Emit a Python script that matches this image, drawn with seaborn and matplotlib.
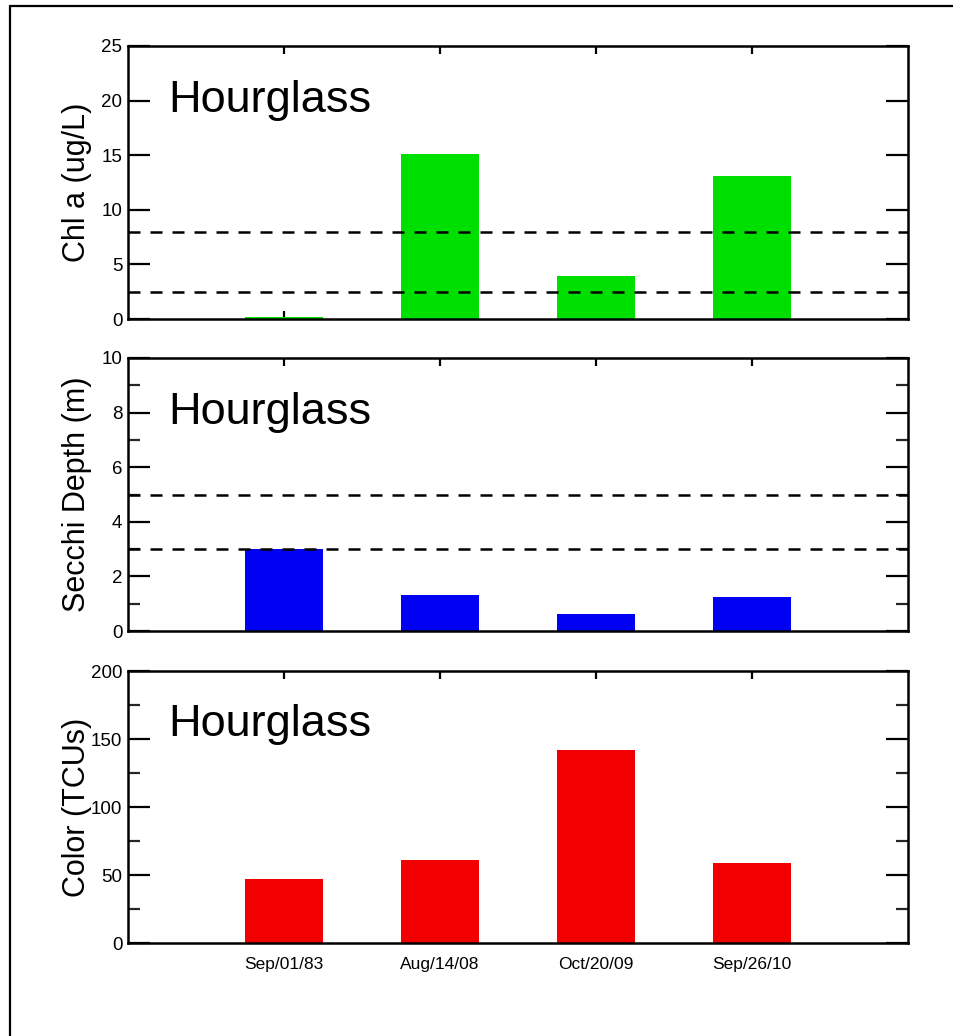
import matplotlib
matplotlib.use("Agg")
import matplotlib.pyplot as plt
from matplotlib.lines import Line2D
from matplotlib.ticker import MultipleLocator
import seaborn as sns
import pandas as pd

# Sampling dates and measured values for Hourglass lake
dates = ["Sep/01/83", "Aug/14/08", "Oct/20/09", "Sep/26/10"]
chl_a = [0.15, 15.1, 3.9, 13.1]         # ug/L
secchi = [3.0, 1.33, 0.62, 1.25]        # m
color_tcu = [47, 61, 142, 59]           # TCUs

chl_refs = [8.0, 2.5]
secchi_refs = [5.0, 3.0]

lake_name = "Hourglass"

sns.set_theme(style="white")
plt.rcParams["font.family"] = ["Liberation Sans", "DejaVu Sans"]

fig = plt.figure(figsize=(9.54, 10.36), dpi=100)
fig.patch.set_facecolor("white")

# outer frame (left and top edges)
fig.add_artist(Line2D([10 / 954, 10 / 954], [0, 1 - 6 / 1036],
                      transform=fig.transFigure, color="black", lw=1.6))
fig.add_artist(Line2D([10 / 954, 1], [1 - 6 / 1036, 1 - 6 / 1036],
                      transform=fig.transFigure, color="black", lw=1.6))

left, width = 128 / 954, 780 / 954
panels = [
    dict(vals=chl_a, color="#00e000", ylim=25, major=5, minor=None,
         ylabel="Chl a (ug/L)", refs=chl_refs, top=46, bottom=319),
    dict(vals=secchi, color="#0000f2", ylim=10, major=2, minor=1,
         ylabel="Secchi Depth (m)", refs=secchi_refs, top=358, bottom=631),
    dict(vals=color_tcu, color="#f20000", ylim=200, major=50, minor=25,
         ylabel="Color (TCUs)", refs=[], top=671, bottom=943),
]

for i, p in enumerate(panels):
    y0 = 1 - p["bottom"] / 1036
    h = (p["bottom"] - p["top"]) / 1036
    ax = fig.add_axes([left, y0, width, h])
    df = pd.DataFrame({"date": dates, "value": p["vals"]})
    sns.barplot(data=df, x="date", y="value", color=p["color"], saturation=1,
                width=0.5, ax=ax, edgecolor="none", linewidth=0)
    for r in p["refs"]:
        ax.axhline(r, color="black", lw=1.8, ls=(0, (4.8, 4.0)), zorder=3)
    ax.set_xlim(-1, 4)
    ax.set_ylim(0, p["ylim"])
    ax.yaxis.set_major_locator(MultipleLocator(p["major"]))
    if p["minor"]:
        ax.yaxis.set_minor_locator(MultipleLocator(p["minor"]))
    for s in ax.spines.values():
        s.set_visible(True)
        s.set_color("black")
        s.set_linewidth(1.8)
    ax.tick_params(axis="y", which="major", direction="in", left=True, right=True,
                   length=16, width=1.6, pad=4, labelsize=13.5, colors="black")
    ax.tick_params(axis="y", which="minor", direction="in", left=True, right=True,
                   length=8.5, width=1.6)
    ax.tick_params(axis="x", which="major", direction="in", top=True, bottom=True,
                   length=6, width=1.6, pad=10, labelsize=12.5, colors="black")
    if i < 2:
        ax.set_xticklabels([])
    ax.set_xlabel("")
    ax.set_ylabel(p["ylabel"], fontsize=22, color="black")
    ax.yaxis.set_label_coords(-0.046, 0.5)
    ax.text(0.051, 0.76, lake_name, transform=ax.transAxes, fontsize=32.5,
            ha="left", va="baseline", color="black")
    ax.grid(False)

fig.savefig("out.png", dpi=100, facecolor="white")
